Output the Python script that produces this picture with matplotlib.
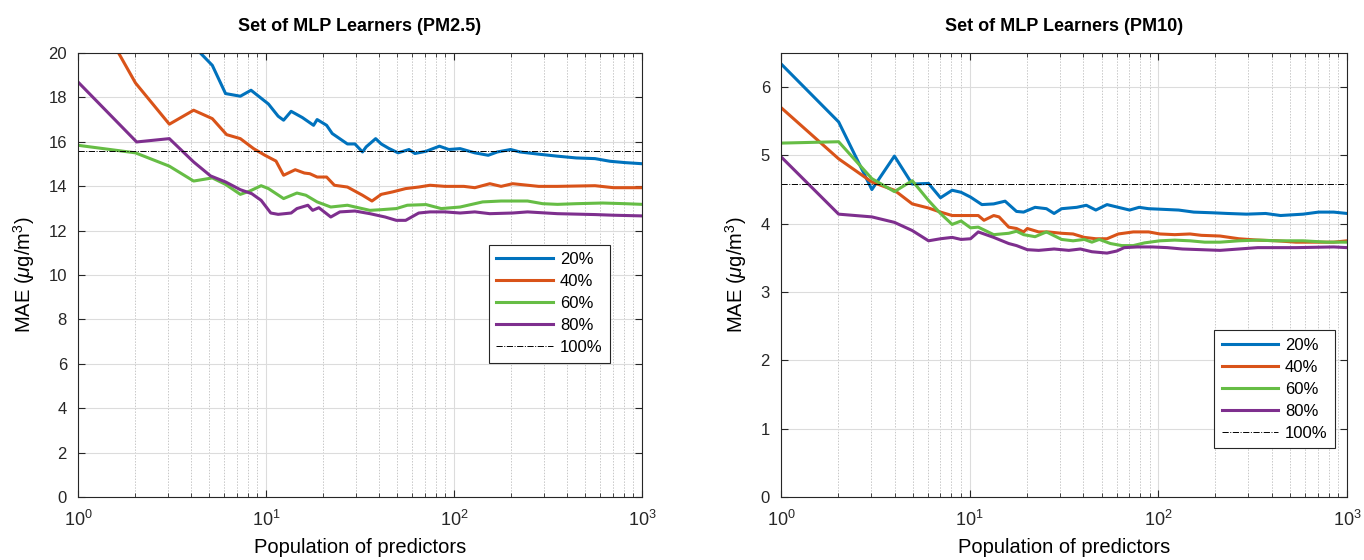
import matplotlib
matplotlib.use("Agg")
import matplotlib.pyplot as plt
from matplotlib.ticker import LogLocator, NullFormatter

plt.rcParams['font.family'] = ['Liberation Sans', 'DejaVu Sans']
plt.rcParams['mathtext.fontset'] = 'custom'
plt.rcParams['mathtext.rm'] = 'Liberation Sans'
plt.rcParams['mathtext.it'] = 'Liberation Sans:italic'

labels = ['20%', '40%', '60%', '80%']
colors = ['#0072BD', '#D95319', '#66BD45', '#7E2F8E']

# ---- PM2.5 ----
pm25_x20 = [3.7, 4.41, 5.18, 6.09, 7.3, 8.32, 10.3, 11.6, 12.4, 13.6, 15.6, 17.9, 18.7, 21.0, 22.5, 27.1, 29.7,
            32.6, 34.1, 38.3, 41, 45, 50.4, 57.6, 61.9, 71, 83.6, 93.8, 107.7, 129, 152, 170, 200, 224, 282, 355,
            447, 562, 676, 813, 1000]
pm25_y20 = [20.6, 20.05, 19.44, 18.17, 18.05, 18.32, 17.7, 17.15, 16.97, 17.37, 17.09, 16.74, 17.0, 16.74, 16.37,
            15.9, 15.9, 15.54, 15.77, 16.14, 15.9, 15.7, 15.5, 15.65, 15.47, 15.57, 15.8, 15.65, 15.69, 15.5, 15.39,
            15.54, 15.65, 15.54, 15.44, 15.35, 15.27, 15.24, 15.12, 15.06, 15.01]
pm25_x40 = [1.5, 1.63, 2.02, 3.06, 4.12, 5.18, 6.17, 7.3, 8.59, 9.87, 11.3, 12.4, 14.3, 16.0, 17.1, 18.7, 21, 23.1,
            27.1, 32.6, 36.6, 41, 47.1, 55.3, 64.9, 74.5, 89.5, 112.7, 129, 155, 178, 205, 282, 355, 562, 706, 1000]
pm25_y40 = [20.8, 20.05, 18.65, 16.79, 17.42, 17.04, 16.32, 16.14, 15.69, 15.39, 15.13, 14.49, 14.74, 14.59, 14.56,
            14.41, 14.41, 14.04, 13.96, 13.59, 13.33, 13.63, 13.74, 13.89, 13.96, 14.04, 13.99, 13.99, 13.93, 14.11,
            13.99, 14.11, 13.99, 13.99, 14.02, 13.93, 13.93]
pm25_x60 = [1, 2.02, 3.06, 4.12, 5.18, 6.09, 7.3, 8.2, 9.42, 10.3, 12.4, 14.6, 16.3, 18.7, 22.1, 27.1, 35.7, 41,
            49.3, 56.4, 71, 85.5, 107.7, 142, 178, 246, 296, 355, 447, 617, 813, 1000]
pm25_y60 = [15.84, 15.5, 14.9, 14.23, 14.37, 14.08, 13.63, 13.78, 14.02, 13.89, 13.44, 13.69, 13.59, 13.29, 13.06,
            13.14, 12.91, 12.94, 12.99, 13.14, 13.17, 12.99, 13.06, 13.29, 13.33, 13.33, 13.21, 13.18, 13.21, 13.24,
            13.21, 13.18]
pm25_x80 = [1, 2.05, 3.06, 4.12, 5.07, 6.09, 7.3, 8.4, 9.42, 10.6, 11.6, 13.6, 14.6, 16.7, 17.7, 19.1, 22.1, 24.7,
            29.7, 35.7, 43, 49.3, 55.3, 64.9, 74.5, 89.5, 107.7, 129, 155, 205, 246, 355, 562, 706, 1000]
pm25_y80 = [18.69, 15.99, 16.14, 15.09, 14.46, 14.19, 13.84, 13.66, 13.36, 12.79, 12.73, 12.79, 12.99, 13.14, 12.91,
            13.03, 12.61, 12.84, 12.88, 12.76, 12.61, 12.46, 12.46, 12.79, 12.84, 12.84, 12.79, 12.84, 12.76, 12.79,
            12.84, 12.76, 12.72, 12.69, 12.66]
pm25_full = 15.6

# ---- PM10 ----
pm10_x20 = [1, 2.02, 3.03, 3.99, 4.96, 6.05, 7.0, 8.07, 9.0, 10.1, 11.6, 13.4, 15.4, 17.7, 19.3, 22.2, 25.5, 28.0,
            30.7, 36.9, 41.5, 46.6, 53.4, 61.3, 70.4, 79, 88.7, 106.8, 128, 154, 194, 233, 293, 370, 444, 585, 706,
            849, 1000]
pm10_y20 = [6.34, 5.49, 4.50, 4.99, 4.58, 4.59, 4.38, 4.49, 4.46, 4.39, 4.28, 4.29, 4.33, 4.18, 4.17, 4.24, 4.22,
            4.15, 4.22, 4.24, 4.27, 4.20, 4.28, 4.24, 4.20, 4.24, 4.22, 4.21, 4.20, 4.17, 4.16, 4.15, 4.14, 4.15, 4.12,
            4.14, 4.17, 4.17, 4.15]
pm10_x40 = [1, 2.02, 3.03, 3.99, 4.96, 6.05, 7.0, 8.07, 10.1, 11.1, 11.9, 13.4, 14.3, 16.1, 17.7, 19.3, 20.2, 23.2,
            26.0, 30.7, 35.3, 40.5, 46.6, 53.4, 61.3, 73.6, 88.7, 101.9, 122, 147, 169, 212, 267, 336, 424, 536, 675,
            849, 1000]
pm10_y40 = [5.70, 4.95, 4.61, 4.49, 4.29, 4.23, 4.17, 4.12, 4.12, 4.12, 4.05, 4.12, 4.10, 3.95, 3.93, 3.88, 3.93,
            3.88, 3.88, 3.86, 3.85, 3.80, 3.78, 3.78, 3.85, 3.88, 3.88, 3.85, 3.84, 3.85, 3.83, 3.82, 3.78, 3.76, 3.75,
            3.73, 3.73, 3.73, 3.75]
pm10_x60 = [1, 2.02, 3.03, 3.99, 4.96, 6.05, 7.0, 8.07, 9.0, 10.1, 11.1, 13.4, 16.1, 17.7, 19.3, 22.2, 25.5, 30.7,
            35.3, 40.5, 44.4, 48.6, 55.7, 64.0, 73.6, 84.6, 101.9, 122, 147, 176, 212, 267, 336, 424, 585, 778, 1000]
pm10_y60 = [5.18, 5.20, 4.66, 4.47, 4.63, 4.34, 4.15, 3.99, 4.04, 3.94, 3.95, 3.84, 3.86, 3.89, 3.84, 3.81, 3.88,
            3.77, 3.75, 3.77, 3.73, 3.77, 3.71, 3.68, 3.68, 3.72, 3.75, 3.76, 3.75, 3.73, 3.73, 3.75, 3.76, 3.75, 3.75,
            3.73, 3.73]
pm10_x80 = [1, 2.02, 3.03, 3.99, 4.96, 6.05, 7.0, 8.07, 9.0, 10.1, 11.1, 13.4, 16.1, 17.7, 20.2, 23.2, 28.0, 33.5,
            38.6, 44.4, 53.4, 60.1, 65.9, 77.3, 92.8, 111.5, 134, 169, 212, 267, 336, 536, 849, 1000]
pm10_y80 = [4.98, 4.14, 4.10, 4.02, 3.90, 3.75, 3.78, 3.80, 3.77, 3.78, 3.88, 3.80, 3.71, 3.68, 3.62, 3.61, 3.63,
            3.61, 3.63, 3.59, 3.57, 3.60, 3.65, 3.66, 3.66, 3.65, 3.63, 3.62, 3.61, 3.63, 3.65, 3.65, 3.66, 3.65]
pm10_full = 4.58

fig = plt.figure(figsize=(13.64, 5.6), dpi=100)
ax1 = fig.add_axes([0.0572, 0.1125, 0.4135, 0.793])
ax2 = fig.add_axes([0.5726, 0.1125, 0.4150, 0.793])


def style(ax, title, ylim, yticks, leg_loc, leg_anchor):
    ax.set_xscale('log')
    ax.set_xlim(1, 1000)
    ax.set_ylim(*ylim)
    ax.set_yticks(yticks)
    ax.xaxis.set_major_locator(LogLocator(base=10, numticks=10))
    ax.xaxis.set_minor_locator(LogLocator(base=10, subs=range(2, 10), numticks=10))
    ax.xaxis.set_minor_formatter(NullFormatter())
    ax.grid(True, which='major', axis='both', color='#DCDCDC', linewidth=0.8, linestyle='-')
    ax.grid(True, which='minor', axis='x', color='#C8C8C8', linewidth=0.7, linestyle=(0, (1.5, 1.5)))
    ax.set_axisbelow(True)
    ax.tick_params(which='both', direction='in', top=True, right=True, colors='#262626')
    ax.tick_params(axis='y', labelsize=12, pad=8)
    ax.tick_params(axis='x', labelsize=13, pad=9)
    ax.tick_params(which='major', length=5)
    ax.tick_params(which='minor', length=3)
    for s in ax.spines.values():
        s.set_color('#262626')
        s.set_linewidth(0.8)
    ax.set_title(title, fontsize=13, fontweight='bold', pad=16)
    ax.set_xlabel('Population of predictors', fontsize=14.5, labelpad=6)
    ax.set_ylabel(r'MAE ($\mu$g/m$^3$)', fontsize=14.5, labelpad=8)
    leg = ax.legend(loc=leg_loc, bbox_to_anchor=leg_anchor, fontsize=12, fancybox=False, framealpha=1,
                    edgecolor='#262626', handlelength=3.4, handletextpad=0.4, borderpad=0.45,
                    labelspacing=0.42, borderaxespad=0)
    leg.get_frame().set_linewidth(0.8)


for xs, ys, lab, c in zip([pm25_x20, pm25_x40, pm25_x60, pm25_x80],
                          [pm25_y20, pm25_y40, pm25_y60, pm25_y80], labels, colors):
    ax1.plot(xs, ys, color=c, linewidth=2.2, label=lab)
ax1.axhline(pm25_full, color='black', linewidth=0.7, linestyle='-.', label='100%')
style(ax1, 'Set of MLP Learners (PM2.5)', (0, 20), range(0, 21, 2), 'upper right', (0.943, 0.568))

for xs, ys, lab, c in zip([pm10_x20, pm10_x40, pm10_x60, pm10_x80],
                          [pm10_y20, pm10_y40, pm10_y60, pm10_y80], labels, colors):
    ax2.plot(xs, ys, color=c, linewidth=2.2, label=lab)
ax2.axhline(pm10_full, color='black', linewidth=0.7, linestyle='-.', label='100%')
style(ax2, 'Set of MLP Learners (PM10)', (0, 6.5), range(0, 7), 'lower right', (0.979, 0.11))

fig.savefig('out.png', dpi=100)
